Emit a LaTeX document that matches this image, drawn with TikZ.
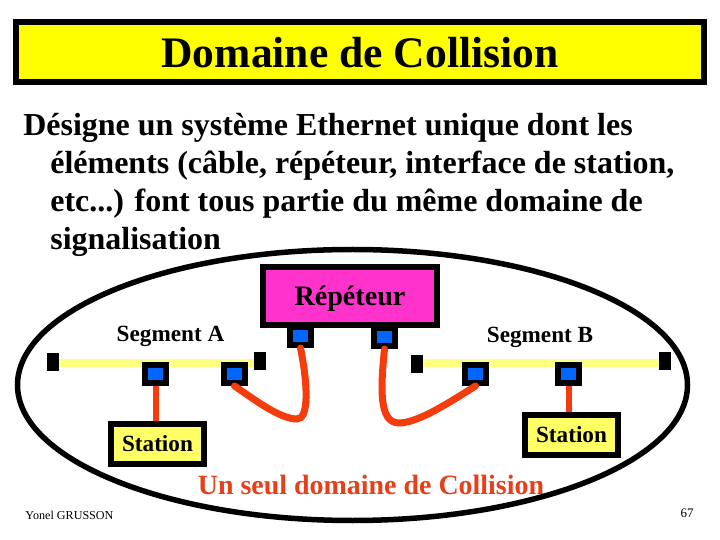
\documentclass[tikz,border=0pt]{standalone}
\usepackage{fontspec}
\setmainfont{Liberation Serif}
\usetikzlibrary{positioning}
\definecolor{titleyellow}{HTML}{FFFF00}
\definecolor{stationyellow}{HTML}{FFFF66}
\definecolor{wireyellow}{HTML}{FFFF80}
\definecolor{repeatermagenta}{HTML}{FF33CC}
\definecolor{portblue}{HTML}{0066FF}
\definecolor{cablered}{HTML}{F43C0C}
\definecolor{domainred}{HTML}{E6401A}

\begin{document}
\begin{tikzpicture}[
    x=0.02cm, y=-0.02cm,
    every node/.style={font=\fontsize{13.2}{16}\selectfont\bfseries, inner sep=0pt, text depth=0pt, text height=9pt},
    titlebox/.style={draw, line width=0.12cm, fill=titleyellow, minimum width=13.76cm, minimum height=1.2cm, text height=18pt, font=\fontsize{24.8}{28}\selectfont\bfseries},
    bodytext/.style={anchor=base west, text height=, text depth=, font=\fontsize{18.2}{22}\selectfont\bfseries},
    repeaterbox/.style={draw, line width=0.12cm, fill=repeatermagenta, minimum width=3.5cm, minimum height=1.16cm, text height=11pt, font=\fontsize{16}{18}\selectfont\bfseries},
    stationbox/.style={draw, line width=0.12cm, fill=stationyellow, minimum width=1.86cm, minimum height=0.8cm},
    port/.style={draw, line width=0.12cm, fill=portblue, minimum width=0.42cm, minimum height=0.36cm},
    terminator/.style={fill=black, minimum width=0.24cm, minimum height=0.38cm},
    segment/.style={draw=wireyellow, line width=0.15cm},
    drop/.style={draw=cablered, line width=0.12cm},
    cable/.style={draw=cablered, line width=0.14cm, line cap=round},
    smalltext/.style={text height=5pt, font=\fontsize{7.4}{9}\selectfont}
]
\useasboundingbox (0,0) rectangle (720,540);

\node[titlebox] (title) at (360,52) {Domaine de Collision};
\node[bodytext] (line1) at (23,136) {Désigne un système Ethernet unique dont les};
\node[bodytext] (line2) at (50,174) {éléments (câble, répéteur, interface de station,};
\node[bodytext] (line3) at (50,212) {etc...) font tous partie du même domaine de};
\node[bodytext] (line4) at (50,250) {signalisation};

\draw[line width=0.11cm] (352.5,385) ellipse (335 and 135.5);

\coordinate (wire) at (0,363);
\node[terminator] (ta1) at (53,362) {};
\node[terminator] (ta2) at (260,361) {};
\node[terminator] (tb1) at (417,364) {};
\node[terminator] (tb2) at (665,361) {};
\draw[segment] (ta1.east |- wire) -- (ta2.west |- wire);
\draw[segment] (tb1.east |- wire) -- (tb2.west |- wire);

\node[port] (pa1) at (155.5,374) {};
\node[port] (pa2) at (234.5,374) {};
\node[port] (pb1) at (475.5,374) {};
\node[port] (pb2) at (568.5,374) {};
\node[port] (pr1) at (300.5,336) {};
\node[port] (pr2) at (384.5,337) {};

\node[repeaterbox] (repeater) at (350,296) {Répéteur};
\node[stationbox] (sa) at (157.5,444) {Station};
\node[stationbox] (sb) at (571.5,435) {Station};

\coordinate (benda) at (297,419);
\coordinate (bendb) at (399,423);
\draw[drop] (pa1.south) -- (pa1.south |- sa.north);
\draw[drop] (pb2.south) -- (pb2.south |- sb.north);
\draw[cable] (pa2.south) .. controls (255,400) and (280,419) .. (benda) .. controls (309,419) and (308,385) .. (pr1.south);
\draw[cable] (pb1.south) .. controls (450,402) and (418,423) .. (bendb) .. controls (378,423) and (381,385) .. (pr2.south);

\node (sega) at (170.5,334) {Segment A};
\node (segb) at (540,334.5) {Segment B};
\node[text=domainred, text height=10pt, font=\fontsize{15.9}{18}\selectfont\bfseries] (domain) at (371,485.5) {Un seul domaine de Collision};
\node[smalltext, font=\fontsize{6.9}{9}\selectfont] (author) at (69.5,515) {Yonel GRUSSON};
\node[smalltext] (page) at (687,513) {67};
\end{tikzpicture}
\end{document}
